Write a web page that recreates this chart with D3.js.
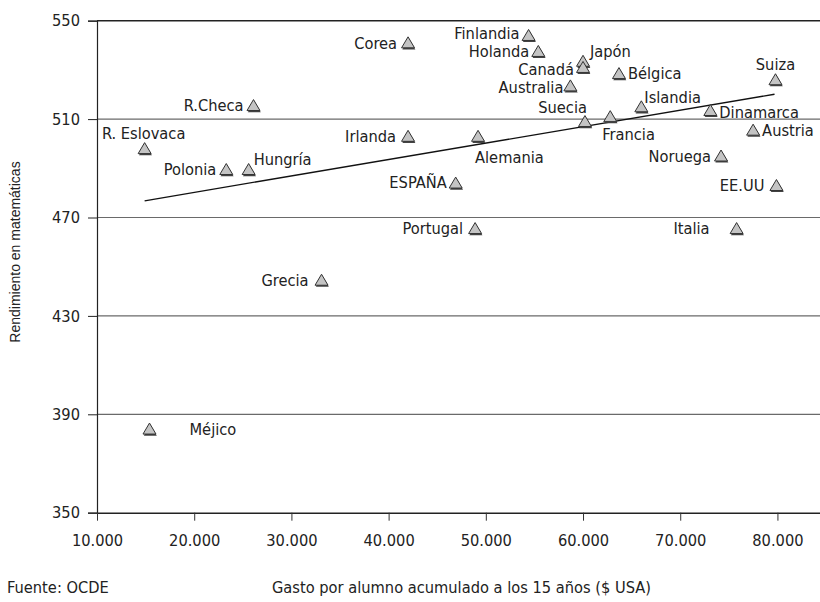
<!DOCTYPE html>
<html><head><meta charset="utf-8">
<script src="https://cdn.jsdelivr.net/npm/d3@7/dist/d3.min.js"></script>
<style>
body{margin:0;background:#fff;}
svg text{font-family:"Liberation Sans Narrow","DejaVu Sans Condensed","Arial Narrow",sans-serif;fill:#222;}
</style></head>
<body><svg id="c" width="820" height="602"></svg>
<script>
const countries = ["Corea","Finlandia","Holanda","Japón","Canadá","Australia","Bélgica","Suiza","Islandia","Dinamarca","Suecia","Francia","Austria","Noruega","EE.UU","Italia","Portugal","Grecia","Méjico","ESPAÑA","Irlanda","Alemania","R.Checa","R. Eslovaca","Polonia","Hungría"];
const gasto = [42000,54400,55400,60000,60000,58700,63700,79800,66000,73100,60200,62800,77500,74200,79900,75800,48900,33100,15400,46900,42000,49200,26100,14900,23300,25600];
const rendimiento = [541,544,537.5,533.5,531,523.5,528.5,526,515,513.5,509,511,505.5,495,483,465.5,465.5,444.5,384,484,503,503,515.5,498,489.5,489.5];
const trendX = [14900, 79700];
const trendY = [476.8, 520.1];
const yTicks = [350,390,430,470,510,550];
const xTicks = [10000,20000,30000,40000,50000,60000,70000,80000];
const xTitle = "Gasto por alumno acumulado a los 15 años ($ USA)";
const yTitle = "Rendimiento en matemáticas";
const source = "Fuente: OCDE";

// label placement (layout only)
const labelPos = {
 "Corea":["end",-11,0],"Finlandia":["end",-9,-2],"Holanda":["end",-9,0],"Japón":["start",7,-10],
 "Canadá":["end",-9,2],"Australia":["end",-7,1],"Bélgica":["start",9,0],"Suiza":["middle",0,-16],
 "Islandia":["start",3,-10],"Dinamarca":["start",9,2],"Suecia":["end",2,-14],"Francia":["start",-8,17],
 "Austria":["start",9,0],"Noruega":["end",-10,0],"EE.UU":["end",-12,0],"Italia":["end",-27,0],
 "Portugal":["end",-12,0],"Grecia":["end",-13,0],"Méjico":["start",40,0],"ESPAÑA":["end",-9,-1],
 "Irlanda":["end",-12,0],"Alemania":["start",-3,21],"R.Checa":["end",-10,0],"R. Eslovaca":["middle",-1,-15],
 "Polonia":["end",-10,0],"Hungría":["start",5,-10]
};

const FS = 16.3;
const svg = d3.select("#c");
const x = d3.scaleLinear().domain([10000, 84380]).range([97, 820]);
const y = d3.scaleLinear().domain([350, 550]).range([512.7, 20.7]);

// gridlines
svg.append("g").selectAll("line").data(yTicks.filter(d=>d>350)).join("line")
  .attr("x1",97).attr("x2",820).attr("y1",d=>y(d)).attr("y2",d=>y(d))
  .attr("stroke",d=>d===550?"#222":"#6a6a6a").attr("stroke-width",d=>d===550?1.4:1.2);

// axes
const fmt = d=>d3.format(",")(d).replace(/,/g,".");
const yAxis = svg.append("g").attr("transform","translate(97,0)")
  .call(d3.axisLeft(y).tickValues(yTicks).tickSize(9).tickPadding(8));
yAxis.select(".domain").attr("stroke","#222").attr("stroke-width",1.2);
yAxis.selectAll(".tick line").attr("stroke","#222");
yAxis.selectAll("text").attr("font-size",FS).attr("fill","#222");

const xAxis = svg.append("g").attr("transform","translate(0,512.7)")
  .call(d3.axisBottom(x).tickValues(xTicks).tickFormat(fmt).tickSize(8).tickPadding(14).tickSizeOuter(0));
xAxis.select(".domain").attr("stroke","#222").attr("stroke-width",1.4);
xAxis.selectAll(".tick line").attr("stroke","#333");
xAxis.selectAll("text").attr("font-size",FS).attr("fill","#222");

// trend line
svg.append("path").datum(trendX.map((d,i)=>[d,trendY[i]]))
  .attr("d", d3.line().x(d=>x(d[0])).y(d=>y(d[1])))
  .attr("fill","none").attr("stroke","#111").attr("stroke-width",1.3);

// points
const data = countries.map((c,i)=>({c, g:gasto[i], r:rendimiento[i]}));
const tri = "M0,-6 L6.5,5 L-6.5,5 Z";
const pts = svg.append("g").selectAll("g").data(data).join("g")
  .attr("transform",d=>`translate(${x(d.g)},${y(d.r)})`);
pts.append("path").attr("d",tri).attr("transform","translate(0.8,1.6)").attr("fill","#444");
pts.append("path").attr("d",tri).attr("fill","#c4c4c4").attr("stroke","#333").attr("stroke-width",1);

// labels
svg.append("g").selectAll("text").data(data).join("text")
  .attr("x",d=>x(d.g)+labelPos[d.c][1])
  .attr("y",d=>y(d.r)+labelPos[d.c][2])
  .attr("dy","0.36em")
  .attr("text-anchor",d=>labelPos[d.c][0])
  .attr("font-size",FS)
  .text(d=>d.c);

// titles
svg.append("text").attr("transform","translate(20,252) rotate(-90)")
  .attr("text-anchor","middle").attr("font-size",14)
  .style("font-family","'Liberation Sans',Arial,sans-serif").attr("fill","#333").text(yTitle);
svg.append("text").attr("x",7).attr("y",593).attr("font-size",FS).text(source);
svg.append("text").attr("x",272).attr("y",593).attr("font-size",FS).text(xTitle);
</script></body></html>
